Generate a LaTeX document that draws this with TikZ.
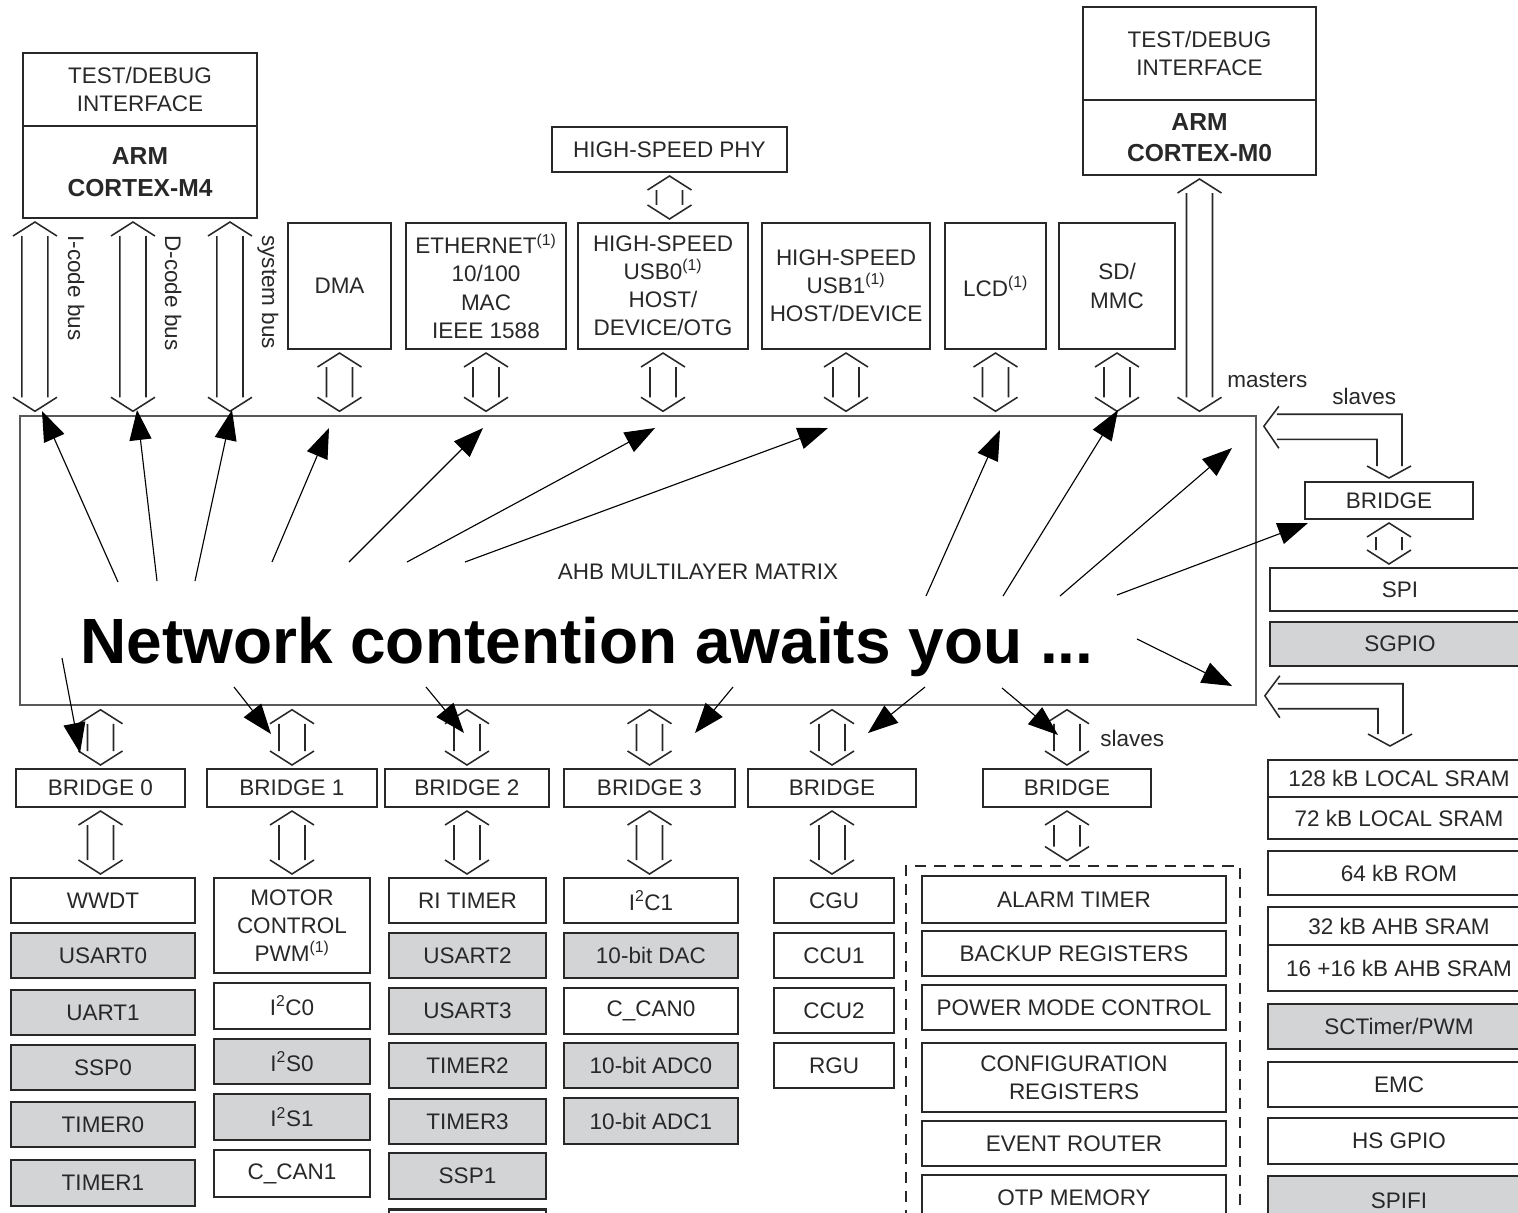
\documentclass[tikz,border=0pt]{standalone}
\usepackage{fontspec}
\setmainfont{Liberation Sans}
\usetikzlibrary{calc, arrows.meta}
\definecolor{cellgray}{RGB}{211,212,214}
\definecolor{inkgray}{RGB}{40,40,40}

\newcommand{\boxfont}{\fontsize{16}{20}\selectfont}
\newcommand{\corefont}{\fontsize{17.5}{22.5}\selectfont\bfseries}

% hollow double arrow, #1 upper end, #2 lower end
\newcommand{\hollowv}[2]{%
	\draw[busline] let \p1=#1, \p2=#2 in
		(\x1-5.5mm,\y1-4.5mm) -- (\x1,\y1-1mm) -- (\x1+5.5mm,\y1-4.5mm)
		(\x1-3.25mm,\y1-4.5mm) -- (\x1-3.25mm,\y2+4.5mm)
		(\x1+3.25mm,\y1-4.5mm) -- (\x1+3.25mm,\y2+4.5mm)
		(\x1-5.5mm,\y2+4.5mm) -- (\x1,\y2+1mm) -- (\x1+5.5mm,\y2+4.5mm);}

% bent slave bus, #1 tip at the matrix, #2 tip at the slave
\newcommand{\lpipe}[2]{%
	\draw[busline] let \p1=#1, \p2=#2 in
		(\x1+3.75mm,\y1+5mm) -- (\x1,\y1) -- (\x1+3.75mm,\y1-5.5mm)
		(\x1+3.25mm,\y1+3mm) -- (\x2+3.25mm,\y1+3mm) -- (\x2+3.25mm,\y2+3mm)
		(\x1+3.25mm,\y1-3.25mm) -- (\x2-3mm,\y1-3.25mm) -- (\x2-3mm,\y2+3mm)
		(\x2-5.5mm,\y2+3mm) -- (\x2,\y2) -- (\x2+5.5mm,\y2+3mm);}

\begin{document}
\begin{tikzpicture}[x=0.025cm, y=-0.025cm,
	box/.style={draw=inkgray, line width=1.8pt, fill=white, inner sep=0pt, outer sep=0pt, align=center, text=inkgray, font=\boxfont},
	gbox/.style={box, fill=cellgray},
	sz/.style 2 args={minimum width=#1*0.25mm, minimum height=#2*0.25mm},
	busline/.style={draw=inkgray, line width=1.1pt},
	contend/.style={black, line width=0.8pt, -{Triangle[length=7.5mm, width=5.5mm]}},
	tag/.style={font=\boxfont, inner sep=0pt, text=inkgray}]
		\useasboundingbox (0,0) rectangle (1518,1212);
		\clip (0,0) rectangle (1518,1212);
		\fill[white] (0,0) rectangle (1518,1212);

		\node[draw=black!65, line width=1pt, sz={1236}{289}] (ahb) at (638,560.5) {};
		\node[tag, font={\fontsize{16}{19}\selectfont}] (ahblabel) at (698,572) {AHB MULTILAYER MATRIX};
		\node[anchor=base west, inner sep=0pt, font={\fontsize{45.5}{50}\selectfont\bfseries}] (title) at (80,663) {Network contention awaits you ...};

		\node[box, sz={234}{73}] (m4dbg) at (140,89.5) {TEST/DEBUG\\INTERFACE};
		\node[box, sz={234}{92}, font=\corefont] (m4) at (140,172) {ARM\\CORTEX-M4};
		\node[box, sz={233}{93}] (m0dbg) at (1199.5,53.5) {TEST/DEBUG\\INTERFACE};
		\node[box, sz={233}{75}, font=\corefont] (m0) at (1199.5,137.5) {ARM\\CORTEX-M0};

		\node[box, sz={235}{45}] (phy) at (669.5,149.5) {HIGH-SPEED PHY};
		\node[box, sz={103}{126}] (dma) at (339.5,286) {DMA};
		\node[box, sz={160}{126}] (eth) at (486,286) {ETHERNET\textsuperscript{(1)}\\10/100\\MAC\\IEEE 1588};
		\node[box, sz={170}{126}] (usb0) at (663,286) {HIGH-SPEED\\USB0\textsuperscript{(1)}\\HOST/\\DEVICE/OTG};
		\node[box, sz={168}{126}] (usb1) at (846,286) {HIGH-SPEED\\USB1\textsuperscript{(1)}\\HOST/DEVICE};
		\node[box, sz={101}{126}] (lcd) at (995.5,286) {LCD\textsuperscript{(1)}};
		\node[box, sz={116}{126}] (sdmmc) at (1117,286) {SD/\\MMC};

		\node[box, sz={168}{37}] (rbridge) at (1389,500.5) {BRIDGE};
		\node[box, sz={260}{43}] (spi) at (1400,589.5) {SPI};
		\node[gbox, sz={260}{44}] (sgpio) at (1400,644) {SGPIO};

		\foreach \n/\x/\w/\t in {b0/100.5/169/BRIDGE 0, b1/292/170/BRIDGE 1, b2/467/164/BRIDGE 2, b3/649.5/171/BRIDGE 3, b4/832/168/BRIDGE, b5/1067/168/BRIDGE}
			\node[box, sz={\w}{38}] (\n) at (\x,788) {\t};

		\foreach \s/\n/\y/\h/\t in {box/wwdt/900.5/45/WWDT, gbox/usart0/955.5/45/USART0, gbox/uart1/1012.5/45/UART1, gbox/ssp0/1067.5/45/SSP0, gbox/timer0/1124.5/45/TIMER0, gbox/timer1/1183/46/TIMER1}
			\node[\s, sz={184}{\h}] (\n) at (103,\y) {\t};
		\foreach \s/\n/\y/\h/\t in {box/mcpwm/925.5/95/{MOTOR\\CONTROL\\PWM\textsuperscript{(1)}}, box/i2c0/1006/46/{I\textsuperscript{2}C0}, gbox/i2s0/1061.5/45/{I\textsuperscript{2}S0}, gbox/i2s1/1117/46/{I\textsuperscript{2}S1}, box/ccan1/1173.5/47/{C\_CAN1}}
			\node[\s, sz={156}{\h}] (\n) at (292,\y) {\t};
		\foreach \s/\n/\y/\h/\t in {box/ritimer/900.5/45/RI TIMER, gbox/usart2/955.5/45/USART2, gbox/usart3/1011/46/USART3, gbox/timer2/1065.5/45/TIMER2, gbox/timer3/1121.5/45/TIMER3, gbox/ssp1/1176/46/SSP1, box/col3end/1232/45/{}}
			\node[\s, sz={157}{\h}] (\n) at (467.5,\y) {\t};
		\foreach \s/\n/\y/\h/\t in {box/i2c1/900.5/45/{I\textsuperscript{2}C1}, gbox/dac/955.5/45/10-bit DAC, box/ccan0/1011/46/{C\_CAN0}, gbox/adc0/1065.5/45/10-bit ADC0, gbox/adc1/1121/46/10-bit ADC1}
			\node[\s, sz={174}{\h}] (\n) at (651,\y) {\t};
		\foreach \n/\y/\t in {cgu/900.5/CGU, ccu1/955.5/CCU1, ccu2/1010.5/CCU2, rgu/1065.5/RGU}
			\node[box, sz={120}{45}] (\n) at (834,\y) {\t};

		\node[draw=inkgray, line width=2pt, dash pattern=on 2.8mm off 2mm, sz={334}{370}] (aon) at (1073,1051) {};
		\foreach \n/\y/\h/\t in {alarm/899.5/47/ALARM TIMER, backup/953.5/45/BACKUP REGISTERS, pmc/1007.5/45/POWER MODE CONTROL, config/1077.5/69/{CONFIGURATION\\REGISTERS}, evrouter/1143.5/45/EVENT ROUTER, otp/1198/46/OTP MEMORY}
			\node[box, sz={304}{\h}] (\n) at (1074,\y) {\t};

		\foreach \s/\n/\y/\h/\t in {box/sram128/778.5/37/128 kB LOCAL SRAM, box/sram72/818/42/72 kB LOCAL SRAM, box/rom/873/44/64 kB ROM, box/ahb32/926/38/32 kB AHB SRAM, box/ahb16/968/46/16 +16 kB AHB SRAM, gbox/sct/1026.5/45/{SCTimer/PWM}, box/emc/1084.5/45/EMC, box/hsgpio/1141/46/HS GPIO, gbox/spifi/1200.5/49/SPIFI}
			\node[\s, sz={262}{\h}] (\n) at (1399,\y) {\t};

		% buses
		\coordinate (ibus) at ($(m4.south west)+(12,0)$);
		\coordinate (dbus) at ($(m4.south west)+(110,0)$);
		\coordinate (sbus) at ($(m4.south west)+(207,0)$);
		\foreach \c in {ibus,dbus,sbus}
			\hollowv{(\c)}{(\c |- ahb.north)};
		\foreach \c in {dma,eth,usb0,usb1,lcd,sdmmc,m0}
			\hollowv{(\c.south)}{(\c.south |- ahb.north)};
		\hollowv{(phy.south)}{(phy.south |- usb0.north)};
		\foreach \c in {b0,b1,b2,b3,b4,b5}
			\hollowv{(\c.north |- ahb.south)}{(\c.north)};
		\foreach \b/\c in {b0/wwdt, b1/mcpwm, b2/ritimer, b3/i2c1, b4/cgu, b5/aon}
			\hollowv{(\b.south)}{(\b.south |- \c.north)};
		\hollowv{(rbridge.south)}{(rbridge.south |- spi.north)};

		\coordinate (slv1) at ($(ahb.north east)+(7,11)$);
		\coordinate (slv1end) at ($(rbridge.north)+(0,-4)$);
		\lpipe{(slv1)}{(slv1end)};
		\coordinate (slv2) at ($(ahb.south east)+(8,-10)$);
		\coordinate (slv2end) at (1390,746);
		\lpipe{(slv2)}{(slv2end)};

		\node[tag, rotate=-90, anchor=base west] (ilabel) at (68,235) {I-code bus};
		\node[tag, rotate=-90, anchor=base west] (dlabel) at (165,235) {D-code bus};
		\node[tag, rotate=-90, anchor=base west] (slabel) at (262,235) {system bus};
		\node[tag, anchor=base west] (masters) at (1227,387) {masters};
		\node[tag, anchor=base west] (slaves) at (1332,404) {slaves};
		\node[tag, anchor=base west] (slaves2) at (1100,746) {slaves};

		% contention
		\foreach \n/\a/\b/\c/\d in {1/118/582/42/411, 2/157/581/137/410, 3/195/581/232/410, 4/272/562/329/428, 5/349/562/483/428, 6/407/562/655/428, 7/465/562/828/428, 8/926/596/1000/430, 9/1003/596/1118/410, 10/1060/596/1232/448, 11/1117/595/1308/523, 12/1137/639/1232/686, 13/62/658/80/753, 14/234/687/271/734, 15/426/687/464/733, 16/733/687/695/733, 17/925/687/868/733, 18/1002/688/1058/735} {
			\coordinate (src\n) at (\a,\b);
			\coordinate (dst\n) at (\c,\d);
			\draw[contend] (src\n) -- (dst\n);
		}
	\end{tikzpicture}
\end{document}
